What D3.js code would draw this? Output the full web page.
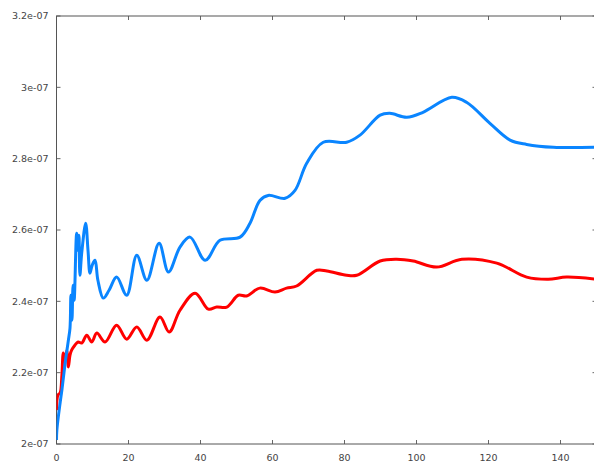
<!DOCTYPE html>
<html>
<head>
<meta charset="utf-8">
<script src="https://cdn.jsdelivr.net/npm/d3@7"></script>
<style>
    body { margin: 0; background: #fff; }
    svg { display: block; }
    .tick-label { font-family: "DejaVu Sans", sans-serif; font-size: 9.5px; fill: #444; }
</style>
</head>
<body>
<svg id="chart" width="594" height="462"></svg>
<script>
// values are in units of 1e-07
const xTicks = [0, 20, 40, 60, 80, 100, 120, 140];
const yTicks = [2, 2.2, 2.4, 2.6, 2.8, 3, 3.2];

const blueX = [0, 0.1, 1.0, 1.5, 2.4, 2.9, 3.3, 3.75, 4.0, 4.3, 4.6, 4.9, 5.6, 6.0, 6.25, 6.5, 7.0, 8.1, 8.75, 9.3, 9.9, 10.7, 11.5,
    13.0, 14.6, 16.7, 19.5, 22.3, 25.1, 28.5, 31.1, 34.3, 37.1, 41.3, 45.4, 51.0, 53.75, 56.5, 58.8, 63.5, 66.25, 69.5,
    74.1, 80.6, 84.3, 89.9, 92.6, 97.3, 101.8, 109.8, 113.9, 120.4, 126.0, 130.6, 138.0, 150];
const blueY = [2.011, 2.039, 2.115, 2.151, 2.227, 2.263, 2.291, 2.325, 2.417, 2.347, 2.445, 2.403, 2.591, 2.543, 2.585, 2.473, 2.535, 2.619, 2.543, 2.479, 2.501, 2.515, 2.459,
    2.409, 2.431, 2.468, 2.417, 2.529, 2.459, 2.563, 2.482, 2.552, 2.580, 2.515, 2.571, 2.580, 2.619, 2.683, 2.697, 2.689, 2.711, 2.787,
    2.846, 2.846, 2.866, 2.922, 2.927, 2.916, 2.930, 2.972, 2.958, 2.899, 2.852, 2.840, 2.832, 2.832];

const redX = [0, 0.4, 1.0, 1.5, 1.9, 2.4, 2.9, 3.3, 3.75, 4.2, 5.1, 6.0, 7.0, 8.4, 9.8, 11.2, 13.5, 16.7, 19.5, 22.3, 25.1, 28.75, 31.3,
    34.3, 38.5, 42.2, 44.5, 47.3, 50.5, 52.8, 56.5, 60.7, 63.9, 66.7, 72.3, 75.1, 80.6, 83.4, 89.9, 94.5, 99.1, 105.6,
    112.6, 122.3, 130.6, 136.6, 141.7, 150];
const redY = [2.095, 2.137, 2.143, 2.193, 2.255, 2.235, 2.263, 2.216, 2.249, 2.263, 2.277, 2.286, 2.283, 2.305, 2.286, 2.311, 2.286, 2.333, 2.294, 2.328, 2.291, 2.356, 2.314,
    2.375, 2.423, 2.378, 2.384, 2.384, 2.417, 2.415, 2.437, 2.426, 2.437, 2.443, 2.487, 2.485, 2.473, 2.473, 2.513, 2.518, 2.513, 2.496,
    2.518, 2.507, 2.468, 2.462, 2.468, 2.462];

class LinePlot {
    constructor (element) {
        this.svg = d3.select(element);
        this.margin = {top: 16, left: 56.5};
        this.width = 540;
        this.height = 428;
        this.x = d3.scaleLinear().domain([0, 150]).range([0, this.width]);
        this.y = d3.scaleLinear().domain([2, 3.2]).range([this.height, 0]);
        this.g = this.svg.append("g")
            .attr("transform", "translate(" + this.margin.left + "," + this.margin.top + ")");
    }

    drawFrame () {
        const tickLen = 4;
        const fmt = (d) => (+d.toFixed(1)) + "e-07";
        const grey = "#666";

        // mirrored inward ticks like gnuplot
        this.g.append("g").attr("class", "ticks")
            .selectAll("line.xb").data(xTicks).enter().append("line")
            .attr("x1", (d) => this.x(d)).attr("x2", (d) => this.x(d))
            .attr("y1", this.height).attr("y2", this.height - tickLen)
            .attr("stroke", grey);
        this.g.append("g")
            .selectAll("line").data(xTicks).enter().append("line")
            .attr("x1", (d) => this.x(d)).attr("x2", (d) => this.x(d))
            .attr("y1", 0).attr("y2", tickLen)
            .attr("stroke", grey);
        this.g.append("g")
            .selectAll("line").data(yTicks).enter().append("line")
            .attr("x1", 0).attr("x2", tickLen)
            .attr("y1", (d) => this.y(d)).attr("y2", (d) => this.y(d))
            .attr("stroke", grey);
        this.g.append("g")
            .selectAll("line").data(yTicks).enter().append("line")
            .attr("x1", this.width).attr("x2", this.width - tickLen)
            .attr("y1", (d) => this.y(d)).attr("y2", (d) => this.y(d))
            .attr("stroke", grey);

        this.g.append("rect")
            .attr("x", 0).attr("y", 0)
            .attr("width", this.width).attr("height", this.height)
            .attr("fill", "none").attr("stroke", "#555").attr("stroke-width", 1);

        this.g.append("g")
            .selectAll("text").data(yTicks).enter().append("text")
            .attr("class", "tick-label")
            .attr("x", -8)
            .attr("y", (d) => this.y(d))
            .attr("dy", "0.35em")
            .attr("text-anchor", "end")
            .text(fmt);

        this.g.append("g")
            .selectAll("text").data(xTicks).enter().append("text")
            .attr("class", "tick-label")
            .attr("x", (d) => this.x(d))
            .attr("y", this.height + 17)
            .attr("text-anchor", "middle")
            .text((d) => d);
    }

    drawSeries (xs, ys, color) {
        const pts = xs.map((v, i) => [v, ys[i]]);
        const line = d3.line()
            .x((d) => this.x(d[0]))
            .y((d) => this.y(d[1]))
            .curve(d3.curveCatmullRom.alpha(0.5));
        this.g.append("path")
            .datum(pts)
            .attr("clip-path", "url(#plot-clip)")
            .attr("d", line)
            .attr("fill", "none")
            .attr("stroke", color)
            .attr("stroke-width", 3)
            .attr("stroke-linejoin", "round");
    }

    render () {
        this.svg.append("defs").append("clipPath").attr("id", "plot-clip")
            .append("rect").attr("width", this.width).attr("height", this.height);
        this.drawFrame();
        this.drawSeries(redX, redY, "#ff0000");
        this.drawSeries(blueX, blueY, "#0a85ff");
    }
}

new LinePlot("#chart").render();
</script>
</body>
</html>
